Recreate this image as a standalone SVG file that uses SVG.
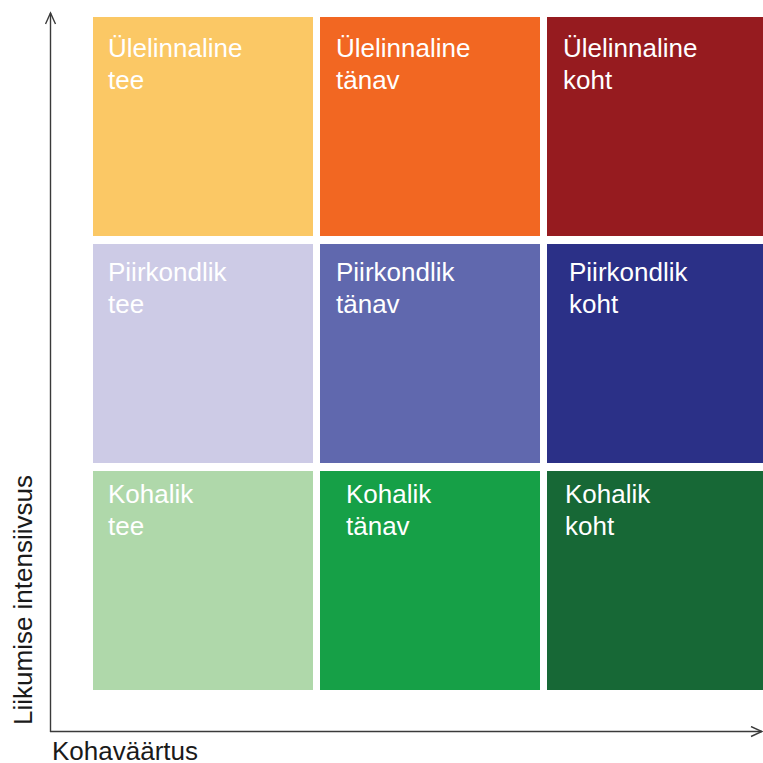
<svg xmlns="http://www.w3.org/2000/svg" width="763" height="763" viewBox="0 0 763 763">
  <defs>
    <marker id="arrow" markerWidth="14" markerHeight="12" refX="12" refY="6" orient="auto" markerUnits="userSpaceOnUse">
      <path d="M1,1 L12,6 L1,11" fill="none" stroke="#3a3a3a" stroke-width="1.4"/>
    </marker>
  </defs>
  <style>
    .cell text { font-family: "Liberation Sans", Arial, sans-serif; font-size: 26px; fill: #ffffff; }
    .axis-label { font-family: "Liberation Sans", Arial, sans-serif; font-size: 26px; fill: #1a1a1a; }
    .axis { stroke: #3a3a3a; stroke-width: 1.4; fill: none; marker-end: url(#arrow); }
  </style>
  <rect width="763" height="763" fill="#ffffff"/>

  <!-- row 1: city-wide -->
  <g id="ulelinnaline-tee" class="cell">
    <rect x="93" y="17" width="220" height="219" fill="#FBC865"/>
    <text x="108" y="57">Ülelinnaline</text>
    <text x="108" y="89">tee</text>
  </g>
  <g id="ulelinnaline-tanav" class="cell">
    <rect x="320" y="17" width="220" height="219" fill="#F26722"/>
    <text x="336" y="57">Ülelinnaline</text>
    <text x="336" y="89">tänav</text>
  </g>
  <g id="ulelinnaline-koht" class="cell">
    <rect x="547" y="17" width="216" height="219" fill="#961B1F"/>
    <text x="563" y="57">Ülelinnaline</text>
    <text x="563" y="89">koht</text>
  </g>

  <!-- row 2: district -->
  <g id="piirkondlik-tee" class="cell">
    <rect x="93" y="244" width="220" height="219" fill="#CDCBE6"/>
    <text x="108" y="281">Piirkondlik</text>
    <text x="108" y="313">tee</text>
  </g>
  <g id="piirkondlik-tanav" class="cell">
    <rect x="320" y="244" width="220" height="219" fill="#6068AE"/>
    <text x="336" y="281">Piirkondlik</text>
    <text x="336" y="313">tänav</text>
  </g>
  <g id="piirkondlik-koht" class="cell">
    <rect x="547" y="244" width="216" height="219" fill="#2B3087"/>
    <text x="569" y="281">Piirkondlik</text>
    <text x="569" y="313">koht</text>
  </g>

  <!-- row 3: local -->
  <g id="kohalik-tee" class="cell">
    <rect x="93" y="471" width="220" height="219" fill="#AFD8AA"/>
    <text x="108" y="503">Kohalik</text>
    <text x="108" y="535">tee</text>
  </g>
  <g id="kohalik-tanav" class="cell">
    <rect x="320" y="471" width="220" height="219" fill="#16A047"/>
    <text x="346" y="503">Kohalik</text>
    <text x="346" y="535">tänav</text>
  </g>
  <g id="kohalik-koht" class="cell">
    <rect x="547" y="471" width="216" height="219" fill="#176836"/>
    <text x="565" y="503">Kohalik</text>
    <text x="565" y="535">koht</text>
  </g>

  <!-- axes -->
  <g id="connectors">
    <path class="axis" d="M50.5,732 L50.5,13"/>
    <path class="axis" d="M50,731.5 L762,731.5"/>
  </g>

  <text class="axis-label" x="52" y="760">Kohaväärtus</text>
  <text class="axis-label" transform="translate(32,725) rotate(-90)">Liikumise intensiivsus</text>
</svg>
